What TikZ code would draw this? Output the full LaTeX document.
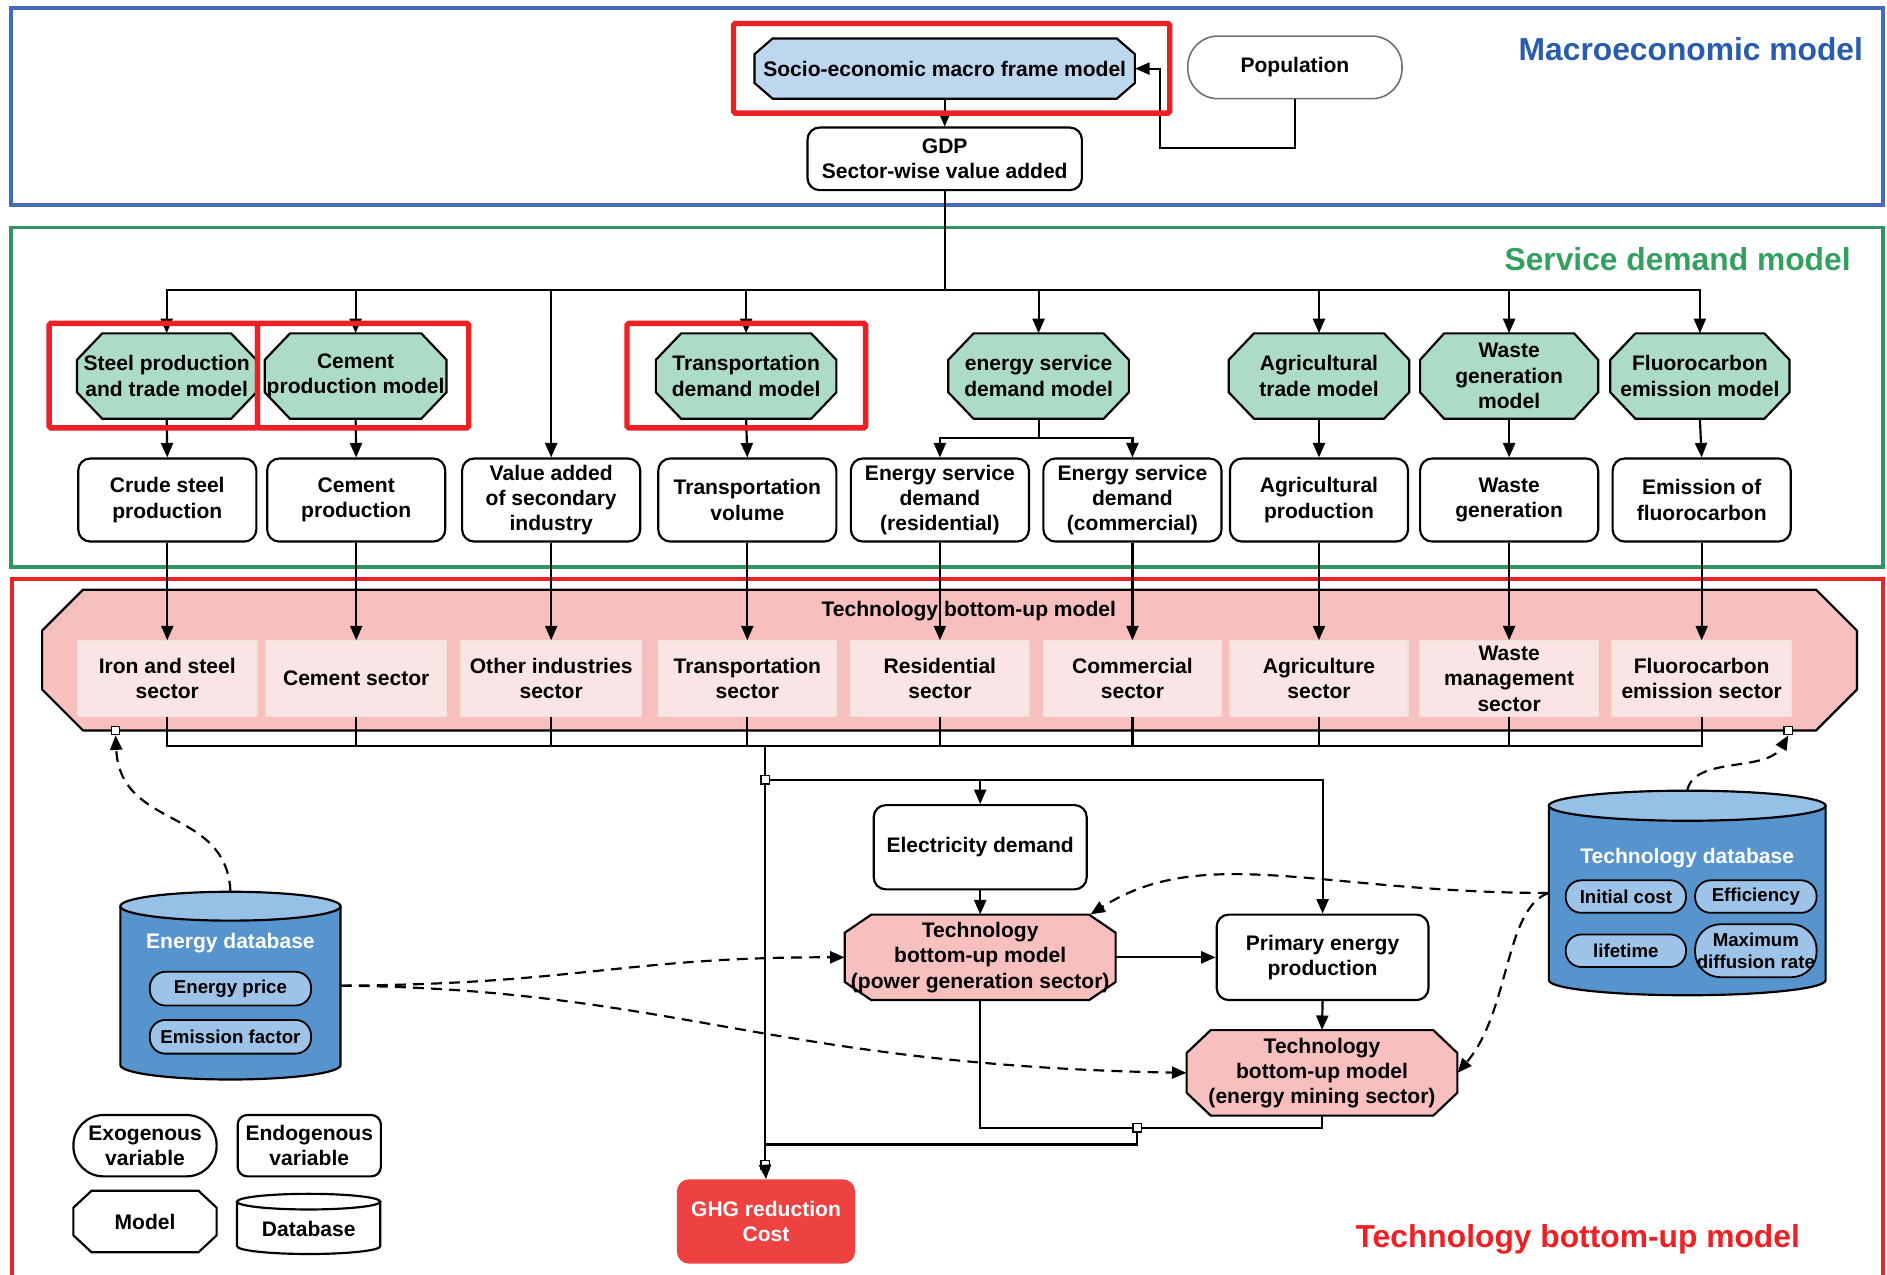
\documentclass[tikz,border=0pt]{standalone}
\usepackage{fontspec}
\setmainfont{Liberation Sans}
\usetikzlibrary{arrows.meta,calc}
\definecolor{frameblue}{RGB}{68,106,186}
\definecolor{titleblue}{RGB}{40,92,172}
\definecolor{framegreen}{RGB}{46,150,96}
\definecolor{titlegreen}{RGB}{52,160,96}
\definecolor{framered}{RGB}{237,32,36}
\definecolor{sociofill}{RGB}{189,215,238}
\definecolor{octgreen}{RGB}{172,220,198}
\definecolor{pinkfill}{RGB}{248,191,191}
\definecolor{sectfill}{RGB}{251,228,229}
\definecolor{sectline}{RGB}{236,226,216}
\definecolor{ghgred}{RGB}{238,66,66}
\definecolor{dbblue}{RGB}{87,148,206}
\definecolor{dbtopblue}{RGB}{150,192,230}
\definecolor{pillblue}{RGB}{157,195,232}
\definecolor{popgray}{RGB}{110,110,110}

% octagon: name, cx, cy, w, h, chamfer x, chamfer y, style, text
\newcommand\octnode[9]{%
  \path[#8] (#2-#4/2+#6,#3-#5/2) -- (#2+#4/2-#6,#3-#5/2) -- (#2+#4/2,#3-#5/2+#7) -- (#2+#4/2,#3+#5/2-#7)
    -- (#2+#4/2-#6,#3+#5/2) -- (#2-#4/2+#6,#3+#5/2) -- (#2-#4/2,#3+#5/2-#7) -- (#2-#4/2,#3-#5/2+#7) -- cycle;
  \node[txt, minimum width=#4pt, minimum height=#5pt, inner sep=0pt] (#1) at (#2,#3) {#9};
}
% cylinder: name, cx, y top-centre, y bottom-centre, rx, ry, body style, top style
\newcommand\dbcyl[8]{%
  \fill[#7] (#2-#5,#3) -- (#2-#5,#4) arc[start angle=180,end angle=360,x radius=#5pt,y radius=#6pt] -- (#2+#5,#3) -- cycle;
  \draw[dbline] (#2-#5,#3) -- (#2-#5,#4) arc[start angle=180,end angle=360,x radius=#5pt,y radius=#6pt] -- (#2+#5,#3);
  \filldraw[#8, dbline] (#2,#3) ellipse [x radius=#5pt, y radius=#6pt];
  \node[minimum width={2*#5pt}, minimum height={(#4-#3+2*#6)*1pt}, inner sep=0pt] (#1) at (#2,{(#3+#4)/2}) {};
}

\begin{document}
\begin{tikzpicture}[x=1pt,y=-1pt,
  txt/.style={font=\fontsize{17.5}{21}\selectfont\bfseries, align=center, text=black},
  ttl/.style={font=\fontsize{26.4}{30}\selectfont\bfseries, align=center},
  varbox/.style={txt, draw, line width=1.8pt, rounded corners=10pt, fill=white, minimum width=148pt, minimum height=69pt, inner sep=0pt},
  sect/.style={txt, fill=sectfill, draw=sectline, line width=1pt, minimum height=63pt, inner sep=0pt},
  octg/.style={draw, line width=1.8pt, fill=octgreen},
  octp/.style={draw, line width=1.8pt, fill=pinkfill},
  octb/.style={draw, line width=1.8pt, fill=sociofill},
  octw/.style={draw, line width=1.8pt, fill=white},
  dbline/.style={draw=black, line width=1.8pt},
  dbbody/.style={fill=dbblue},
  dbtop/.style={fill=dbtopblue},
  legbody/.style={fill=white},
  legtop/.style={fill=white},
  pill/.style={font=\fontsize{15.5}{18}\selectfont\bfseries, align=center, draw, fill=pillblue, line width=1.5pt, rounded corners=13pt, inner sep=0pt, minimum height=27pt},
  conn/.style={line width=1.8pt},
  arr/.style={line width=1.8pt, -{Triangle[length=12pt,width=10pt]}},
  dasharr/.style={line width=1.8pt, dash pattern=on 9pt off 6pt, -{Triangle[length=12pt,width=10pt]}},
  sqm/.style={draw, fill=white, line width=1.2pt, minimum size=7pt, inner sep=0pt},
  hl/.style={draw=framered, line width=4.5pt, rounded corners=1.5pt},
  frm/.style={line width=3.2pt}
]
\useasboundingbox (0,0) rectangle (1568,1059);
\fill[white] (0,0) rectangle (1568,1059);

% section frames
\draw[frm, frameblue] (9,7) rectangle (1565,170);
\draw[frm, framegreen] (9,189) rectangle (1565,471);
\draw[frm, framered] (10,481) rectangle (1564.5,1075);

% technology bottom-up band
\octnode{tbm}{789}{548.5}{1508}{117}{34}{34}{octp}{}
\node[txt] (tbmt) at (805,508) {Technology bottom-up model};

% macro section
\octnode{socio}{785}{57}{316}{50}{15}{13}{octb}{Socio-economic macro frame model}
\node[varbox, draw=popgray, line width=1.3pt, rounded corners=25pt, minimum width=178pt, minimum height=52pt] (pop) at (1076,56) {Population};
\node[varbox, minimum width=228pt, minimum height=52pt] (gdp) at (785,132) {GDP\\Sector-wise value added};

% service demand models
\octnode{steelm}{138.5}{312.5}{149}{71}{21}{22}{octg}{Steel production\\and trade model}
\octnode{cemm}{295.5}{312.5}{151}{71}{21}{22}{octg}{Cement\\production model}
\octnode{transm}{620}{312.5}{150}{71}{21}{22}{octg}{Transportation\\demand model}
\octnode{esm}{863}{312.5}{150}{71}{21}{22}{octg}{energy service\\demand model}
\octnode{agrim}{1096}{312.5}{150}{71}{21}{22}{octg}{Agricultural\\trade model}
\octnode{wastem}{1254}{312.5}{148}{71}{20}{22}{octg}{Waste\\generation\\model}
\octnode{fluom}{1412.5}{312.5}{149}{71}{21}{22}{octg}{Fluorocarbon\\emission model}

% variables
\node[varbox] (crude) at (139,415.5) {Crude steel\\production};
\node[varbox] (cemp) at (296,415.5) {Cement\\production};
\node[varbox] (vadd) at (458,415.5) {Value added\\of secondary\\industry};
\node[varbox] (tvol) at (621,415.5) {Transportation\\volume};
\node[varbox] (esres) at (781,415.5) {Energy service\\demand\\(residential)};
\node[varbox] (escom) at (941,415.5) {Energy service\\demand\\(commercial)};
\node[varbox] (agrip) at (1096,415.5) {Agricultural\\production};
\node[varbox] (wasteg) at (1254,415.5) {Waste\\generation};
\node[varbox] (fluoe) at (1414,415.5) {Emission of\\fluorocarbon};

% sectors
\node[sect, minimum width=149pt] (ironS) at (139,564) {Iron and steel\\sector};
\node[sect, minimum width=150pt] (cemS) at (296,564) {Cement sector};
\node[sect, minimum width=150pt] (othS) at (458,564) {Other industries\\sector};
\node[sect, minimum width=148pt] (trS) at (621,564) {Transportation\\sector};
\node[sect, minimum width=148pt] (resS) at (781,564) {Residential\\sector};
\node[sect, minimum width=148pt] (comS) at (941,564) {Commercial\\sector};
\node[sect, minimum width=148pt] (agrS) at (1096,564) {Agriculture\\sector};
\node[sect, minimum width=148pt] (wasS) at (1254,564) {Waste\\management\\sector};
\node[sect, minimum width=149pt] (fluS) at (1414,564) {Fluorocarbon\\emission sector};

% lower flow
\node[varbox, minimum width=177pt, minimum height=70pt] (elec) at (814.5,704) {Electricity demand};
\octnode{pg}{814.5}{795.5}{225}{71}{22}{15}{octp}{Technology\\bottom-up model\\(power generation sector)}
\node[varbox, minimum width=176pt, minimum height=71pt] (prim) at (1099,795.5) {Primary energy\\production};
\octnode{mine}{1098.5}{891.5}{225}{71}{20}{19}{octp}{Technology\\bottom-up model\\(energy mining sector)}
\node[txt, text=white, fill=ghgred, rounded corners=10pt, minimum width=148pt, minimum height=70pt, inner sep=0pt] (ghg) at (636.5,1015) {GHG reduction\\Cost};

% databases
\dbcyl{edb}{191.5}{753}{885}{91.5}{12}{dbbody}{dbtop}
\node[txt, text=white] (edbt) at (191.5,783.5) {Energy database};
\node[pill, minimum width=134pt, minimum height=28pt] (ep) at (191.5,821.5) {Energy price};
\node[pill, minimum width=134pt, minimum height=28pt] (ef) at (191.5,861.5) {Emission factor};

\dbcyl{tdb}{1402}{669.5}{814.5}{115}{12.5}{dbbody}{dbtop}
\node[txt, text=white] (tdbt) at (1402,713) {Technology database};
\node[pill, minimum width=100pt] (ic) at (1351,745) {Initial cost};
\node[pill, minimum width=101pt] (eff) at (1459,745) {Efficiency};
\node[pill, minimum width=100pt] (lt) at (1351,790) {lifetime};
\node[pill, minimum width=101pt, minimum height=44pt, rounded corners=21pt] (mdr) at (1459,790) {Maximum\\diffusion rate};

% legend
\node[varbox, rounded corners=25pt, minimum width=119pt, minimum height=51pt] (lexo) at (120.5,952) {Exogenous\\variable};
\node[varbox, rounded corners=8pt, minimum width=119pt, minimum height=51pt] (lendo) at (257,952) {Endogenous\\variable};
\octnode{lmod}{120.5}{1015}{119}{51}{15}{14}{octw}{Model}
\dbcyl{ldb}{256.5}{998.5}{1035.5}{59.5}{6.5}{legbody}{legtop}
\node[txt] (ldbt) at (256.5,1021) {Database};

% junction markers and coordinates
\coordinate (busT) at (785,241);
\coordinate (busB) at (636,620);
\coordinate (jn) at (636,951);
\node[sqm] (sqL) at (96,607) {};
\node[sqm] (sqR) at (1486,607) {};
\node[sqm] (sqA) at (636,648) {};
\node[sqm] (sqB) at (945,937) {};
\node[sqm] (sqC) at (636,968) {};

% connectors: macro
\draw[arr] (socio.south) -- (gdp.north);
\draw[arr] (pop.south) -- ++(0,40) -| ([xshift=21pt]socio.east) -- (socio.east);
\draw[conn] (gdp.south) -- (busT);
\foreach \nm in {steelm,cemm,vadd,transm,esm,agrim,wastem,fluom}{\draw[arr] (busT) -| (\nm.north);}

% models to variables
\foreach \a/\b in {steelm/crude,cemm/cemp,transm/tvol,agrim/agrip,wastem/wasteg,fluom/fluoe}{\draw[arr] (\a.south) -- (\b.north);}
\draw[arr] (esm.south) -- ++(0,16) -| (esres.north);
\draw[arr] (esm.south) -- ++(0,16) -| (escom.north);

% variables to sectors
\foreach \a/\b in {crude/ironS,cemp/cemS,vadd/othS,tvol/trS,esres/resS,escom/comS,agrip/agrS,wasteg/wasS,fluoe/fluS}{\draw[arr] (\a.south) -- (\b.north);}

% sectors to lower bus
\foreach \nm in {ironS,cemS,othS,trS,resS,comS,agrS,wasS,fluS}{\draw[conn] (\nm.south) |- (busB);}
\draw[conn] (busB) -- (sqA.north);
\draw[conn] (sqA.south) -- (sqC.north);
\draw[arr] (sqC.south) -- (ghg.north);
\draw[arr] (sqA.east) -| (prim.north);
\draw[arr] (sqA -| elec.north) -- (elec.north);
\draw[arr] (elec.south) -- (pg.north);
\draw[arr] (pg.east) -- (prim.west);
\draw[arr] (prim.south) -- (mine.north);
\draw[conn] (pg.south) |- (sqB.west);
\draw[conn] (mine.south) |- (sqB.east);
\draw[conn] (sqB.south) |- (jn);

% dashed data links
\draw[dasharr] (edb.north) .. controls (188,670) and (100,690) .. (sqL.south);
\draw[dasharr] (tdb.north) .. controls (1408,628) and (1468,642) .. (sqR.south);
\draw[dasharr] (edb.east) .. controls (480,818) and (520,795) .. (pg.west);
\draw[dasharr] (edb.east) .. controls (560,822) and (640,885) .. (mine.west);
\draw[dasharr] (tdb.west) .. controls (1100,742) and (1000,700) .. ([xshift=-21pt]pg.north east);
\draw[dasharr] (tdb.west) .. controls (1250,755) and (1255,840) .. (mine.east);

% red highlights
\draw[hl] (609.5,19.5) rectangle (972,94);
\draw[hl] (40.8,268.7) rectangle (214,355.6);
\draw[hl] (214,268.7) rectangle (389.5,355.6);
\draw[hl] (521,268.7) rectangle (719.3,355.6);

% section titles
\node[ttl, text=titleblue] (tmacro) at (1405,41) {Macroeconomic model};
\node[ttl, text=titlegreen] (tserv) at (1394,215) {Service demand model};
\node[ttl, text=framered] (ttech) at (1311,1030) {Technology bottom-up model};
\end{tikzpicture}
\end{document}
